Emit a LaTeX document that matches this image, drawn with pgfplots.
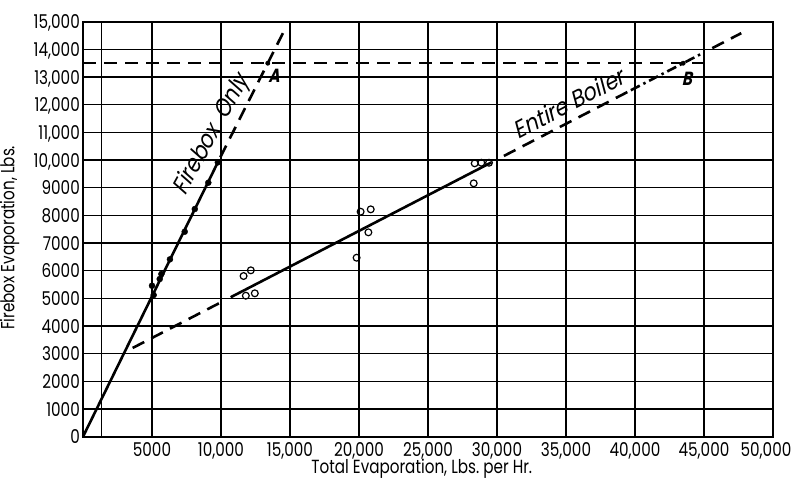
\documentclass[border=0pt]{standalone}
\usepackage{fontspec}
\setmainfont[FakeStretch=0.8]{Poppins}
\newfontfamily\slfont[FakeStretch=0.88,FakeSlant=0.22]{Poppins}
\newfontfamily\abfont[FakeStretch=0.8,FakeSlant=0.22]{Poppins}
\usepackage{pgfplots}
\pgfplotsset{compat=1.18}
\newcommand{\lab}{\fontsize{19}{20}\selectfont}
\newcommand{\biglab}{\fontsize{24}{25}\selectfont}
\begin{document}
\begin{tikzpicture}
\begin{axis}[
  at={(0,0)}, anchor=south west,
  scale only axis, width=690pt, height=415pt,
  xmin=0, xmax=50000, ymin=0, ymax=15000,
  scaled ticks=false,
  xtick={5000,10000,15000,20000,25000,30000,35000,40000,45000,50000},
  xticklabels={5000,{10,000},{15,000},{20,000},{25,000},{30,000},{35,000},{40,000},{45,000},{\hspace*{-14pt}50,000}},
  ytick={0,1000,2000,3000,4000,5000,6000,7000,8000,9000,10000,11000,12000,13000,14000,15000},
  yticklabels={0,1000,2000,3000,4000,5000,6000,7000,8000,9000,{10,000},{11,000},{12,000},{13,000},{14,000},{15,000}},
  extra x ticks={1340}, extra x tick labels={}, extra x tick style={grid=major},
  grid=major,
  major grid style={black, line width=1.4pt},
  axis line style={line width=2.2pt},
  major tick length=0pt,
  tick style={draw=none},
  ticklabel style={font=\lab},
  yticklabel style={anchor=east, inner sep=0pt, xshift=-3pt, text depth=0pt},
  xticklabel style={anchor=north, inner sep=0pt, yshift=-6pt},
  xlabel={Total Evaporation, Lbs.\ per Hr.},
  ylabel={Firebox Evaporation, Lbs.},
  xlabel style={font=\lab, at={(axis description cs:0.491,0)}, anchor=base, yshift=-37pt, inner sep=0pt},
  ylabel style={font=\lab, at={(axis description cs:-0.0993,0.479)}, anchor=base, inner sep=0pt},
  clip=false,
]
% horizontal limit line
\addplot[black, line width=2.4pt, dash pattern=on 13pt off 8pt] coordinates {(0,13500) (45000,13500)};
% Firebox only
\addplot[black, line width=2.6pt] coordinates {(0,0) (9770,9917)};
\addplot[black, line width=2.6pt, dash pattern=on 13pt off 8pt] coordinates {(9950,10100) (14500,14600)};
\addplot[only marks, mark=*, mark size=3pt, black] coordinates {
(5000,5457) (5120,5121) (5560,5700) (5680,5880) (6300,6411) (7370,7409) (8100,8229) (9080,9180) (9770,9917)};
% Entire boiler
\addplot[black, line width=2.6pt, dash pattern=on 13pt off 8pt] coordinates {(3600,3208) (10100,4885)};
\addplot[black, line width=2.6pt] coordinates {(10700,5040) (29600,9916)};
\addplot[black, line width=2.6pt, dash pattern=on 13pt off 8pt] coordinates {(30500,10148) (39700,12522)};
\addplot[black, line width=2.6pt, dash pattern=on 10pt off 4pt on 2.5pt off 4pt] coordinates {(39700,12522) (45000,13889)};
\addplot[black, line width=2.6pt, dash pattern=on 13pt off 8pt] coordinates {(45600,14044) (47700,14586)};
\addplot[only marks, mark=o, mark size=3.4pt, black, mark options={line width=1.2pt}] coordinates {
(11635,5808) (12160,6014) (11800,5096) (12450,5183)
(20117,8132) (20850,8218) (20680,7387) (19826,6469)
(28384,9881) (28862,9902) (29420,9902) (28312,9158)};
% intersection marks
\addplot[only marks, mark=*, mark size=2.2pt, black] coordinates {(13390,13500) (43490,13500)};
% labels
\node[rotate=61, anchor=south, inner sep=0pt, font=\slfont\biglab] at (axis cs:10150,10690) {Firebox\ \ Only};
\node[rotate=27.5, anchor=south, inner sep=0pt, font=\slfont\biglab] at (axis cs:35500,11750) {Entire Boiler};
\node[font=\abfont\bfseries\lab] at (axis cs:13841,13036) {A};
\node[font=\abfont\bfseries\lab] at (axis cs:43768,12927) {B};
\end{axis}
\pgfresetboundingbox
\path[use as bounding box] (-83pt,-43.3pt) rectangle (708pt,436.7pt);
\end{tikzpicture}
\end{document}
